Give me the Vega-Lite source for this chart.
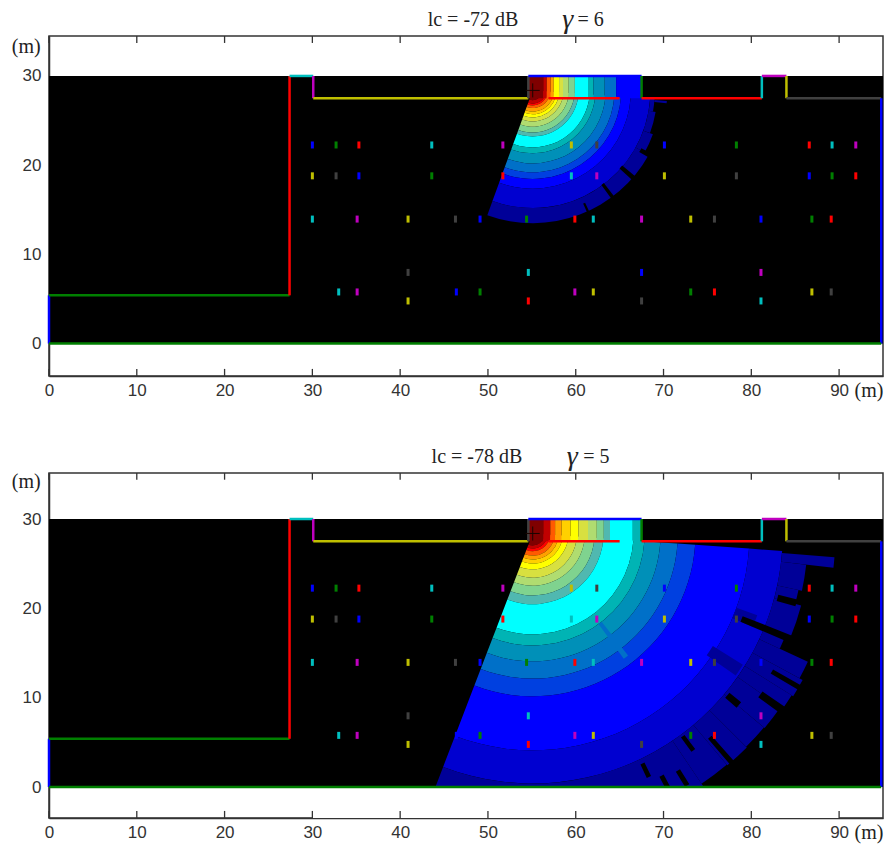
{"$schema":"https://vega.github.io/schema/vega-lite/v6.json","padding":{"left":10,"top":5,"right":0,"bottom":0},"background":"white","spacing":40,
"config":{"view":{"stroke":"#333","strokeWidth":1.5},"axis":{"grid":false,"ticks":false,"domainColor":"#333","domainWidth":1.5,"labelColor":"#333","labelFont":"Liberation Sans","labelFontSize":17,"labelFlush":false,"title":null,"zindex":1}},
"datasets":{
"walls":[{"x":0,"y":0,"x2":0,"y2":5.4,"c":"b"},{"x":0,"y":5.4,"x2":27.4,"y2":5.4,"c":"g"},{"x":27.4,"y":5.4,"x2":27.4,"y2":30,"c":"r"},{"x":27.4,"y":30,"x2":30.1,"y2":30,"c":"c"},{"x":30.1,"y":30,"x2":30.1,"y2":27.5,"c":"m"},{"x":30.1,"y":27.5,"x2":54.6,"y2":27.5,"c":"y"},{"x":54.6,"y":27.5,"x2":54.6,"y2":30,"c":"k"},{"x":54.6,"y":30,"x2":67.5,"y2":30,"c":"b"},{"x":67.5,"y":30,"x2":67.5,"y2":27.5,"c":"g"},{"x":67.5,"y":27.5,"x2":81.2,"y2":27.5,"c":"r"},{"x":81.2,"y":27.5,"x2":81.2,"y2":30,"c":"c"},{"x":81.2,"y":30,"x2":84,"y2":30,"c":"m"},{"x":84,"y":30,"x2":84,"y2":27.5,"c":"y"},{"x":84,"y":27.5,"x2":94.8,"y2":27.5,"c":"k"},{"x":94.8,"y":27.5,"x2":94.8,"y2":0,"c":"b"},{"x":0,"y":0,"x2":94.8,"y2":0,"c":"g"},{"x":56.9,"y":27.5,"x2":65,"y2":27.5,"c":"r"}],
"recv":[{"x":30,"y":22.26,"c":"b"},{"x":32.7,"y":22.26,"c":"g"},{"x":35.3,"y":22.26,"c":"r"},{"x":43.6,"y":22.26,"c":"c"},{"x":51.7,"y":22.26,"c":"m"},{"x":59.5,"y":22.26,"c":"y"},{"x":62.4,"y":22.26,"c":"k"},{"x":70.1,"y":22.26,"c":"b"},{"x":78.3,"y":22.26,"c":"g"},{"x":86.6,"y":22.26,"c":"r"},{"x":89.2,"y":22.26,"c":"c"},{"x":91.9,"y":22.26,"c":"m"},
{"x":30,"y":18.8,"c":"y"},{"x":32.7,"y":18.8,"c":"k"},{"x":35.3,"y":18.8,"c":"b"},{"x":43.6,"y":18.8,"c":"g"},{"x":51.7,"y":18.8,"c":"r"},{"x":59.5,"y":18.8,"c":"c"},{"x":62.4,"y":18.8,"c":"m"},{"x":70.1,"y":18.8,"c":"y"},{"x":78.3,"y":18.8,"c":"k"},{"x":86.6,"y":18.8,"c":"b"},{"x":89.2,"y":18.8,"c":"g"},{"x":91.9,"y":18.8,"c":"r"},
{"x":30,"y":13.95,"c":"c"},{"x":35.1,"y":13.95,"c":"m"},{"x":40.9,"y":13.95,"c":"y"},{"x":46.3,"y":13.95,"c":"k"},{"x":49.1,"y":13.95,"c":"b"},{"x":54.4,"y":13.95,"c":"g"},{"x":59.9,"y":13.95,"c":"r"},{"x":62,"y":13.95,"c":"c"},{"x":67.5,"y":13.95,"c":"m"},{"x":73.1,"y":13.95,"c":"y"},{"x":75.8,"y":13.95,"c":"k"},{"x":81.1,"y":13.95,"c":"b"},{"x":86.9,"y":13.95,"c":"g"},{"x":89.1,"y":13.95,"c":"r"},
{"x":40.9,"y":7.97,"c":"k"},{"x":54.6,"y":7.97,"c":"c"},{"x":67.5,"y":7.97,"c":"b"},{"x":81.1,"y":7.97,"c":"m"},
{"x":33,"y":5.78,"c":"c"},{"x":35.1,"y":5.78,"c":"m"},{"x":46.4,"y":5.78,"c":"b"},{"x":49.1,"y":5.78,"c":"g"},{"x":59.9,"y":5.78,"c":"m"},{"x":62,"y":5.78,"c":"y"},{"x":73.1,"y":5.78,"c":"g"},{"x":75.8,"y":5.78,"c":"r"},{"x":86.9,"y":5.78,"c":"y"},{"x":89.1,"y":5.78,"c":"k"},
{"x":40.9,"y":4.77,"c":"y"},{"x":54.6,"y":4.77,"c":"r"},{"x":67.5,"y":4.77,"c":"k"},{"x":81.1,"y":4.77,"c":"c"}],
"src":[{"x":55.1,"y":28.38}],
"cover":[{"x":0,"x2":95,"y":0,"y2":30}],
"floor":[{"x":30,"x2":90,"y":-3.47,"y2":-0.05}],
"bandsTop":[{"a0":94,"a1":200,"r0":0,"r1":1.1,"l":"L0"},{"a0":94,"a1":200,"r0":1.1,"r1":1.5,"l":"L1"},{"a0":94,"a1":200,"r0":1.5,"r1":1.7,"l":"L2"},{"a0":94,"a1":200,"r0":1.7,"r1":2,"l":"L3"},{"a0":94,"a1":200,"r0":2,"r1":2.4,"l":"L4"},{"a0":94,"a1":200,"r0":2.4,"r1":2.7,"l":"L5"},{"a0":94,"a1":200,"r0":2.7,"r1":3.05,"l":"L6"},{"a0":94,"a1":200,"r0":3.05,"r1":3.5,"l":"L7"},{"a0":94,"a1":200,"r0":3.5,"r1":4.1,"l":"L8"},{"a0":94,"a1":200,"r0":4.1,"r1":4.75,"l":"L9"},{"a0":94,"a1":200,"r0":4.75,"r1":5.2,"l":"L10"},{"a0":94,"a1":200,"r0":5.2,"r1":6.45,"l":"L11"},{"a0":94,"a1":200,"r0":6.45,"r1":7.1,"l":"L12"},{"a0":94,"a1":200,"r0":7.1,"r1":8.25,"l":"L13"},{"a0":94,"a1":200,"r0":8.25,"r1":9.25,"l":"L14"},{"a0":94,"a1":200,"r0":9.25,"r1":10,"l":"L15"},{"a0":94,"a1":200,"r0":10,"r1":11.1,"l":"L16"},{"a0":94,"a1":200,"r0":11.1,"r1":13.3,"l":"L17"},
{"a0":94,"a1":100,"r0":13.3,"r1":13.8,"l":"L18"},{"a0":100,"a1":110,"r0":13.3,"r1":14.1,"l":"L18"},{"a0":110,"a1":119,"r0":13.3,"r1":14.45,"l":"L18"},{"a0":119,"a1":200,"r0":13.3,"r1":15,"l":"L18"},{"a0":94.5,"a1":95.5,"r0":13.8,"r1":15.2,"l":"L18"},
{"a0":130,"a1":132,"r0":13.2,"r1":15.2,"l":"K"},{"a0":142.5,"a1":144,"r0":13.2,"r1":15.2,"l":"K"},{"a0":155,"a1":156,"r0":14,"r1":15.2,"l":"K"},{"a0":118,"a1":120,"r0":13.9,"r1":15.2,"l":"K"}],
"roomTop":[{"x":54.6,"x2":56.3,"l":"L0"},{"x":56.3,"x2":56.7,"l":"L1"},{"x":56.7,"x2":57.15,"l":"L3"},{"x":57.15,"x2":57.5,"l":"L4"},{"x":57.5,"x2":58.1,"l":"L6"},{"x":58.1,"x2":58.55,"l":"L7"},{"x":58.55,"x2":59.2,"l":"L8"},{"x":59.2,"x2":59.9,"l":"L9"},{"x":59.9,"x2":61.4,"l":"L11"},{"x":61.4,"x2":62,"l":"L12"},{"x":62,"x2":63.3,"l":"L13"},{"x":63.3,"x2":64.6,"l":"L14"},{"x":64.6,"x2":67.5,"l":"L16"}],
"bandsBot":[{"a0":94,"a1":201,"r0":0,"r1":1.35,"l":"L0"},{"a0":94,"a1":201,"r0":1.35,"r1":1.7,"l":"L1"},{"a0":94,"a1":201,"r0":1.7,"r1":2,"l":"L2"},{"a0":94,"a1":201,"r0":2,"r1":2.5,"l":"L3"},{"a0":94,"a1":201,"r0":2.5,"r1":2.95,"l":"L4"},{"a0":94,"a1":201,"r0":2.95,"r1":3.4,"l":"L5"},{"a0":94,"a1":201,"r0":3.4,"r1":4.05,"l":"L6"},{"a0":94,"a1":201,"r0":4.05,"r1":5,"l":"L7"},{"a0":94,"a1":201,"r0":5,"r1":5.9,"l":"L8"},{"a0":94,"a1":201,"r0":5.9,"r1":7,"l":"L9"},{"a0":94,"a1":201,"r0":7,"r1":8,"l":"L10"},{"a0":94,"a1":201,"r0":8,"r1":11.4,"l":"L11"},{"a0":94,"a1":201,"r0":11.4,"r1":12.65,"l":"L12"},{"a0":94,"a1":201,"r0":12.65,"r1":14.45,"l":"L13"},{"a0":94,"a1":201,"r0":14.45,"r1":16.4,"l":"L14"},{"a0":94,"a1":201,"r0":16.4,"r1":18.4,"l":"L15"},{"a0":94,"a1":201,"r0":18.4,"r1":24.5,"l":"L16"},{"a0":94,"a1":201,"r0":24.5,"r1":28.25,"l":"L17"},
{"a0":94.5,"a1":96.5,"r0":28.25,"r1":34.2,"l":"L18"},{"a0":96.5,"a1":102,"r0":28.25,"r1":31.1,"l":"L18"},{"a0":102,"a1":105,"r0":28.25,"r1":30.7,"l":"L18"},{"a0":105,"a1":112,"r0":28.25,"r1":31.4,"l":"L18"},{"a0":112,"a1":115,"r0":28.25,"r1":30.8,"l":"L18"},{"a0":115,"a1":118.5,"r0":28.25,"r1":34.3,"l":"L18"},{"a0":118.5,"a1":122,"r0":28.25,"r1":34.7,"l":"L18"},{"a0":122,"a1":125,"r0":28.25,"r1":34.5,"l":"L18"},{"a0":125,"a1":130,"r0":28.25,"r1":34.2,"l":"L18"},{"a0":130,"a1":135,"r0":28.25,"r1":34.1,"l":"L18"},{"a0":135,"a1":140,"r0":28.25,"r1":34.2,"l":"L18"},{"a0":140,"a1":146,"r0":28.25,"r1":34.1,"l":"L18"},{"a0":146,"a1":201,"r0":28.25,"r1":38.4,"l":"L18"},
{"a0":142,"a1":144,"r0":12.65,"r1":17.5,"l":"L14"},{"a0":110,"a1":113,"r0":24.5,"r1":27,"l":"L18"},{"a0":122,"a1":125,"r0":24,"r1":28,"l":"L18"},
{"a0":104,"a1":105.5,"r0":28.6,"r1":30.8,"l":"K"},{"a0":111.5,"a1":113,"r0":25.5,"r1":31.5,"l":"K"},{"a0":119.5,"a1":120.5,"r0":31.2,"r1":34.8,"l":"K"},{"a0":124.5,"a1":126,"r0":31.5,"r1":34.8,"l":"K"},{"a0":129,"a1":130.5,"r0":28.6,"r1":30.3,"l":"K"},{"a0":143,"a1":144,"r0":28.5,"r1":30.5,"l":"K"},{"a0":138.5,"a1":139.5,"r0":30.5,"r1":34.5,"l":"K"},{"a0":154,"a1":155,"r0":28.8,"r1":30.5,"l":"K"},{"a0":151.5,"a1":152.5,"r0":31,"r1":33,"l":"K"},{"a0":148,"a1":149,"r0":31.4,"r1":33.4,"l":"K"}],
"roomBot":[{"x":54.6,"x2":56.3,"l":"L0"},{"x":56.3,"x2":57.1,"l":"L1"},{"x":57.1,"x2":57.65,"l":"L3"},{"x":57.65,"x2":58.4,"l":"L4"},{"x":58.4,"x2":59.4,"l":"L5"},{"x":59.4,"x2":60.3,"l":"L6"},{"x":60.3,"x2":61.4,"l":"L7"},{"x":61.4,"x2":62.4,"l":"L8"},{"x":62.4,"x2":63.2,"l":"L9"},{"x":63.2,"x2":63.9,"l":"L10"},{"x":63.9,"x2":66.5,"l":"L11"},{"x":66.5,"x2":67.5,"l":"L12"}]
},
"vconcat":[
{"width":834,"height":340,"layer":[
{"data":{"name":"cover"},"mark":{"type":"rect","color":"black"},"encoding":{"x":{"field":"x","type":"quantitative","scale":{"domain":[0,95],"nice":false},"axis":{"values":[0,10,20,30,40,50,60,70,80,90],"format":"d","labelPadding":6,"orient":"bottom"}},"x2":{"field":"x2"},"y":{"field":"y","type":"quantitative","scale":{"domain":[-3.645,34.48],"nice":false,"zero":false},"axis":{"values":[0,10,20,30],"format":"d","labelPadding":8}},"y2":{"field":"y2"}}},
{"data":{"name":"bandsTop"},"mark":{"type":"arc","clip":true},"encoding":{"x":{"datum":55.1,"type":"quantitative"},"y":{"datum":28.38,"type":"quantitative"},"theta":{"field":"a0","type":"quantitative","stack":null,"scale":{"domain":[0,360]}},"theta2":{"field":"a1"},"radius":{"field":"r1","type":"quantitative","scale":{"domain":[0,40],"range":[0,354],"zero":false}},"radius2":{"field":"r0"},"fill":{"field":"l","type":"nominal","legend":null,"scale":{"domain":["L0","L1","L2","L3","L4","L5","L6","L7","L8","L9","L10","L11","L12","L13","L14","L15","L16","L17","L18","K"],"range":["#7f0000","#c00000","#ff0000","#ff5a00","#ffa000","#ffd000","#ffff00","#d8e040","#b0dc70","#7fd38f","#50b8b0","#00ffff","#00b4b4","#0090b8","#0070c8","#0040e0","#0000ff","#0000d0","#000098","#000000"]}}}},
{"data":{"name":"roomTop"},"mark":{"type":"rect"},"encoding":{"x":{"field":"x","type":"quantitative"},"x2":{"field":"x2"},"y":{"datum":27.5,"type":"quantitative"},"y2":{"datum":30},"fill":{"field":"l","type":"nominal","legend":null}}},
{"data":{"name":"walls"},"mark":{"type":"rule","strokeWidth":2.5},"encoding":{"x":{"field":"x","type":"quantitative"},"y":{"field":"y","type":"quantitative"},"x2":{"field":"x2"},"y2":{"field":"y2"},"color":{"field":"c","type":"nominal","legend":null,"scale":{"domain":["b","g","r","c","m","y","k"],"range":["#0000ff","#007f00","#ff0000","#00bfbf","#bf00bf","#bfbf00","#404040"]}}}},
{"data":{"name":"recv"},"mark":{"type":"tick","orient":"vertical","size":7,"thickness":3,"opacity":1},"encoding":{"x":{"field":"x","type":"quantitative"},"y":{"field":"y","type":"quantitative"},"color":{"field":"c","type":"nominal","legend":null}}},
{"data":{"name":"src"},"mark":{"type":"point","shape":"M-1,0L1,0M0,-1L0,1","size":196,"filled":false,"color":"#1a0500","strokeWidth":1,"opacity":1},"encoding":{"x":{"field":"x","type":"quantitative"},"y":{"field":"y","type":"quantitative"}}},
{"data":{"values":[{"v":0},{"v":10},{"v":20},{"v":30},{"v":40},{"v":50},{"v":60},{"v":70},{"v":80},{"v":90}]},"mark":{"type":"rule","color":"#333","strokeWidth":1.3},"encoding":{"x":{"field":"v","type":"quantitative"},"y":{"datum":-3.645,"type":"quantitative"},"y2":{"datum":-2.85}}},
{"data":{"values":[{"v":0},{"v":10},{"v":20},{"v":30},{"v":40},{"v":50},{"v":60},{"v":70},{"v":80},{"v":90}]},"mark":{"type":"rule","color":"#333","strokeWidth":1.3},"encoding":{"x":{"field":"v","type":"quantitative"},"y":{"datum":34.48,"type":"quantitative"},"y2":{"datum":33.7}}},
{"data":{"values":[{"t":"lc = -72 dB","x":48.3,"y":36.28},{"t":"= 6","x":61.7,"y":36.28},{"t":"(m)","x":-2.6,"y":33.3},{"t":"(m)","x":93.4,"y":-5.3}]},"mark":{"type":"text","font":"Liberation Serif","fontSize":20,"color":"#222"},"encoding":{"x":{"field":"x","type":"quantitative"},"y":{"field":"y","type":"quantitative"},"text":{"field":"t"}}},
{"data":{"values":[{"t":"γ","x":59.1,"y":36.28}]},"mark":{"type":"text","font":"Liberation Serif","fontSize":28,"fontStyle":"italic","color":"#222"},"encoding":{"x":{"field":"x","type":"quantitative"},"y":{"field":"y","type":"quantitative"},"text":{"field":"t"}}}
]},
{"width":834,"height":345,"layer":[
{"data":{"name":"cover"},"mark":{"type":"rect","color":"black"},"encoding":{"x":{"field":"x","type":"quantitative","scale":{"domain":[0,95],"nice":false},"axis":{"values":[0,10,20,30,40,50,60,70,80,90],"format":"d","labelPadding":6,"orient":"bottom"}},"x2":{"field":"x2"},"y":{"field":"y","type":"quantitative","scale":{"domain":[-3.47,35.15],"nice":false,"zero":false},"axis":{"values":[0,10,20,30],"format":"d","labelPadding":8}},"y2":{"field":"y2"}}},
{"data":{"name":"bandsBot"},"mark":{"type":"arc","clip":true},"encoding":{"x":{"datum":55.1,"type":"quantitative"},"y":{"datum":28.38,"type":"quantitative"},"theta":{"field":"a0","type":"quantitative","stack":null,"scale":{"domain":[0,360]}},"theta2":{"field":"a1"},"radius":{"field":"r1","type":"quantitative","scale":{"domain":[0,40],"range":[0,354],"zero":false}},"radius2":{"field":"r0"},"fill":{"field":"l","type":"nominal","legend":null,"scale":{"domain":["L0","L1","L2","L3","L4","L5","L6","L7","L8","L9","L10","L11","L12","L13","L14","L15","L16","L17","L18","K"],"range":["#7f0000","#c00000","#ff0000","#ff5a00","#ffa000","#ffd000","#ffff00","#d8e040","#b0dc70","#7fd38f","#50b8b0","#00ffff","#00b4b4","#0090b8","#0070c8","#0040e0","#0000ff","#0000d0","#000098","#000000"]}}}},
{"data":{"name":"roomBot"},"mark":{"type":"rect"},"encoding":{"x":{"field":"x","type":"quantitative"},"x2":{"field":"x2"},"y":{"datum":27.5,"type":"quantitative"},"y2":{"datum":30},"fill":{"field":"l","type":"nominal","legend":null}}},
{"data":{"name":"floor"},"mark":{"type":"rect","color":"white"},"encoding":{"x":{"field":"x","type":"quantitative"},"x2":{"field":"x2"},"y":{"field":"y","type":"quantitative"},"y2":{"field":"y2"}}},
{"data":{"name":"walls"},"mark":{"type":"rule","strokeWidth":2.5},"encoding":{"x":{"field":"x","type":"quantitative"},"y":{"field":"y","type":"quantitative"},"x2":{"field":"x2"},"y2":{"field":"y2"},"color":{"field":"c","type":"nominal","legend":null,"scale":{"domain":["b","g","r","c","m","y","k"],"range":["#0000ff","#007f00","#ff0000","#00bfbf","#bf00bf","#bfbf00","#404040"]}}}},
{"data":{"name":"recv"},"mark":{"type":"tick","orient":"vertical","size":7,"thickness":3,"opacity":1},"encoding":{"x":{"field":"x","type":"quantitative"},"y":{"field":"y","type":"quantitative"},"color":{"field":"c","type":"nominal","legend":null}}},
{"data":{"name":"src"},"mark":{"type":"point","shape":"M-1,0L1,0M0,-1L0,1","size":196,"filled":false,"color":"#1a0500","strokeWidth":1,"opacity":1},"encoding":{"x":{"field":"x","type":"quantitative"},"y":{"field":"y","type":"quantitative"}}},
{"data":{"values":[{"v":0},{"v":10},{"v":20},{"v":30},{"v":40},{"v":50},{"v":60},{"v":70},{"v":80},{"v":90}]},"mark":{"type":"rule","color":"#333","strokeWidth":1.3},"encoding":{"x":{"field":"v","type":"quantitative"},"y":{"datum":-3.47,"type":"quantitative"},"y2":{"datum":-2.68}}},
{"data":{"values":[{"v":0},{"v":10},{"v":20},{"v":30},{"v":40},{"v":50},{"v":60},{"v":70},{"v":80},{"v":90}]},"mark":{"type":"rule","color":"#333","strokeWidth":1.3},"encoding":{"x":{"field":"v","type":"quantitative"},"y":{"datum":35.15,"type":"quantitative"},"y2":{"datum":34.4}}},
{"data":{"values":[{"t":"lc = -78 dB","x":48.75,"y":36.94},{"t":"= 5","x":62.35,"y":36.94},{"t":"(m)","x":-2.6,"y":34.15},{"t":"(m)","x":93.4,"y":-5.15}]},"mark":{"type":"text","font":"Liberation Serif","fontSize":20,"color":"#222"},"encoding":{"x":{"field":"x","type":"quantitative"},"y":{"field":"y","type":"quantitative"},"text":{"field":"t"}}},
{"data":{"values":[{"t":"γ","x":59.6,"y":36.94}]},"mark":{"type":"text","font":"Liberation Serif","fontSize":28,"fontStyle":"italic","color":"#222"},"encoding":{"x":{"field":"x","type":"quantitative"},"y":{"field":"y","type":"quantitative"},"text":{"field":"t"}}}
]}
]}
